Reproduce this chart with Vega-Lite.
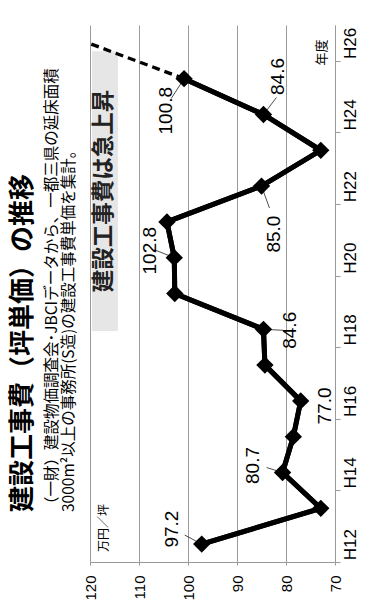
{
  "$schema": "https://vega.github.io/schema/vega-lite/v6.json",
  "width": 245,
  "height": 537,
  "autosize": {"type": "none"},
  "padding": {"left": 90, "top": 25, "right": 34, "bottom": 45},
  "background": "white",
  "config": {"view": {"stroke": null}},
  "title": {
    "text": "建設工事費（坪単価）の推移",
    "subtitle": ["（一財）建設物価調査会･JBCIデータから、一都三県の延床面積", "3000m²以上の事務所(S造)の建設工事費単価を集計。"],
    "orient": "left",
    "anchor": "start",
    "frame": "group",
    "offset": 4,
    "dx": 50,
    "font": "Noto Sans CJK JP",
    "fontSize": 26,
    "fontWeight": "bold",
    "color": "#000000",
    "subtitleFont": "Noto Sans CJK JP",
    "subtitleFontSize": 15.5,
    "subtitleColor": "#000000",
    "subtitleLineHeight": 17,
    "subtitlePadding": 9
  },
  "datasets": {
    "actual": [
      {"year": 12, "value": 97.2},
      {"year": 13, "value": 72.9},
      {"year": 14, "value": 80.7},
      {"year": 15, "value": 78.5},
      {"year": 16, "value": 77.0},
      {"year": 17, "value": 84.3},
      {"year": 18, "value": 84.6},
      {"year": 19, "value": 102.7},
      {"year": 20, "value": 102.8},
      {"year": 21, "value": 104.3},
      {"year": 22, "value": 85.0},
      {"year": 23, "value": 72.9},
      {"year": 24, "value": 84.6},
      {"year": 25, "value": 100.8}
    ],
    "trend": [
      {"year": 25, "value": 100.8},
      {"year": 26, "value": 120.4}
    ]
  },
  "layer": [
    {
      "data": {"name": "actual"},
      "mark": {"type": "line", "color": "#000000", "strokeWidth": 5},
      "encoding": {
        "x": {
          "field": "value",
          "type": "quantitative",
          "scale": {"domain": [70, 120], "reverse": true, "nice": false, "zero": false},
          "axis": {
            "values": [70, 80, 90, 100, 110, 120],
            "grid": true,
            "gridColor": "#9a9a9a",
            "gridWidth": 1,
            "gridOpacity": 1,
            "domainColor": "#999999",
            "tickColor": "#999999",
            "tickSize": 3,
            "labelAngle": 270,
            "labelAlign": "right",
            "labelBaseline": "middle",
            "labelFont": "Liberation Sans Narrow, Liberation Sans",
            "labelFontSize": 15,
            "labelColor": "#000000",
            "labelPadding": 10,
            "title": null
          }
        },
        "y": {
          "field": "year",
          "type": "quantitative",
          "scale": {"domain": [11.5, 26.5], "nice": false, "zero": false},
          "axis": {
            "orient": "right",
            "values": [11.5, 12.5, 13.5, 14.5, 15.5, 16.5, 17.5, 18.5, 19.5, 20.5, 21.5, 22.5, 23.5, 24.5, 25.5, 26.5],
            "labelExpr": "(datum.value - 11.5) % 2 == 0 && datum.value < 26 ? 'H' + (datum.value + 0.5) : ''",
            "labelOffset": -17.9,
            "labelOverlap": false,
            "labelFlush": false,
            "labelAngle": 270,
            "labelAlign": "center",
            "labelBaseline": "middle",
            "labelFont": "Liberation Sans Narrow, Liberation Sans",
            "labelFontSize": 17,
            "labelColor": "#000000",
            "labelPadding": 10,
            "grid": false,
            "domainColor": "#999999",
            "tickColor": "#999999",
            "tickSize": 5,
            "title": null
          }
        },
        "order": {"field": "year"}
      }
    },
    {
      "data": {"values": [{"box": "建設工事費は急上昇"}]},
      "mark": {"type": "rect", "color": "#e6e6e6"},
      "encoding": {
        "x": {"datum": 119.6, "type": "quantitative"},
        "x2": {"datum": 114.3},
        "y": {"datum": 25.77, "type": "quantitative"},
        "y2": {"datum": 17.95}
      }
    },
    {
      "data": {"values": [{"box": "建設工事費は急上昇"}]},
      "mark": {"type": "text", "angle": 270, "align": "center", "baseline": "middle", "font": "Noto Sans CJK JP", "fontWeight": "bold", "fontSize": 22.5, "color": "#222222"},
      "encoding": {
        "x": {"datum": 117.1, "type": "quantitative"},
        "y": {"datum": 21.86, "type": "quantitative"},
        "text": {"field": "box", "type": "nominal"}
      }
    },
    {
      "data": {"values": [{"unit": "万円／坪"}]},
      "mark": {"type": "text", "angle": 270, "align": "center", "baseline": "middle", "font": "Noto Sans CJK JP", "fontSize": 12, "color": "#000000"},
      "encoding": {
        "x": {"datum": 117.2, "type": "quantitative"},
        "y": {"datum": 12.45, "type": "quantitative"},
        "text": {"field": "unit", "type": "nominal"}
      }
    },
    {
      "data": {"values": [{"axisname": "年度"}]},
      "mark": {"type": "text", "angle": 270, "align": "center", "baseline": "middle", "font": "Noto Sans CJK JP", "fontSize": 13, "color": "#000000"},
      "encoding": {
        "x": {"datum": 72.6, "type": "quantitative"},
        "y": {"datum": 25.73, "type": "quantitative"},
        "text": {"field": "axisname", "type": "nominal"}
      }
    },
    {
      "data": {"name": "actual"},
      "transform": [{"filter": "indexof([12,14,18,20,22,24,25], datum.year) >= 0"}],
      "mark": {"type": "point", "filled": false, "stroke": "#000000", "strokeWidth": 0.7, "size": 1600, "opacity": 1},
      "encoding": {
        "x": {"field": "value", "type": "quantitative"},
        "y": {"field": "year", "type": "quantitative"},
        "shape": {
          "field": "year",
          "type": "nominal",
          "legend": null,
          "scale": {
            "domain": [12, 14, 18, 20, 22, 24, 25],
            "range": ["M0,0L-0.85,-0.45", "M0,0L-0.8,-0.25", "M0,0L1,0.05", "M0,0L-1,-0.4", "M0,0L0.4,1.1", "M0,0L0.65,-0.85", "M0,0L-0.65,1"]
          }
        }
      }
    },
    {
      "data": {"name": "trend"},
      "mark": {"type": "line", "color": "#000000", "strokeWidth": 3.3, "strokeDash": [8, 5]},
      "encoding": {
        "x": {"field": "value", "type": "quantitative"},
        "y": {"field": "year", "type": "quantitative"},
        "order": {"field": "year"}
      }
    },
    {
      "data": {"name": "actual"},
      "mark": {"type": "line", "color": "#000000", "strokeWidth": 5},
      "encoding": {
        "x": {"field": "value", "type": "quantitative"},
        "y": {"field": "year", "type": "quantitative"},
        "order": {"field": "year"}
      }
    },
    {
      "data": {"name": "actual"},
      "mark": {"type": "point", "shape": "diamond", "filled": true, "color": "#000000", "size": 300, "opacity": 1},
      "encoding": {
        "x": {"field": "value", "type": "quantitative"},
        "y": {"field": "year", "type": "quantitative"}
      }
    },
    {
      "data": {"name": "actual"},
      "layer": [
        {"transform": [{"filter": "datum.year == 12"}], "mark": {"type": "text", "angle": 270, "align": "center", "baseline": "middle", "font": "Liberation Sans", "fontSize": 19, "dx": 15, "dy": -30}},
        {"transform": [{"filter": "datum.year == 14"}], "mark": {"type": "text", "angle": 270, "align": "center", "baseline": "middle", "font": "Liberation Sans", "fontSize": 19, "dx": 7, "dy": -30}},
        {"transform": [{"filter": "datum.year == 16"}], "mark": {"type": "text", "angle": 270, "align": "center", "baseline": "middle", "font": "Liberation Sans", "fontSize": 19, "dx": -5, "dy": 24}},
        {"transform": [{"filter": "datum.year == 18"}], "mark": {"type": "text", "angle": 270, "align": "center", "baseline": "middle", "font": "Liberation Sans", "fontSize": 19, "dx": -1, "dy": 27}},
        {"transform": [{"filter": "datum.year == 20"}], "mark": {"type": "text", "angle": 270, "align": "center", "baseline": "middle", "font": "Liberation Sans", "fontSize": 19, "dx": 7, "dy": -24}},
        {"transform": [{"filter": "datum.year == 22"}], "mark": {"type": "text", "angle": 270, "align": "center", "baseline": "middle", "font": "Liberation Sans", "fontSize": 19, "dx": -48, "dy": 12}},
        {"transform": [{"filter": "datum.year == 24"}], "mark": {"type": "text", "angle": 270, "align": "center", "baseline": "middle", "font": "Liberation Sans", "fontSize": 19, "dx": 38, "dy": 15}},
        {"transform": [{"filter": "datum.year == 25"}], "mark": {"type": "text", "angle": 270, "align": "center", "baseline": "middle", "font": "Liberation Sans", "fontSize": 19, "dx": -32, "dy": -18}}
      ],
      "encoding": {
        "x": {"field": "value", "type": "quantitative"},
        "y": {"field": "year", "type": "quantitative"},
        "text": {"field": "value", "type": "quantitative", "format": ".1f"}
      }
    }
  ]
}
